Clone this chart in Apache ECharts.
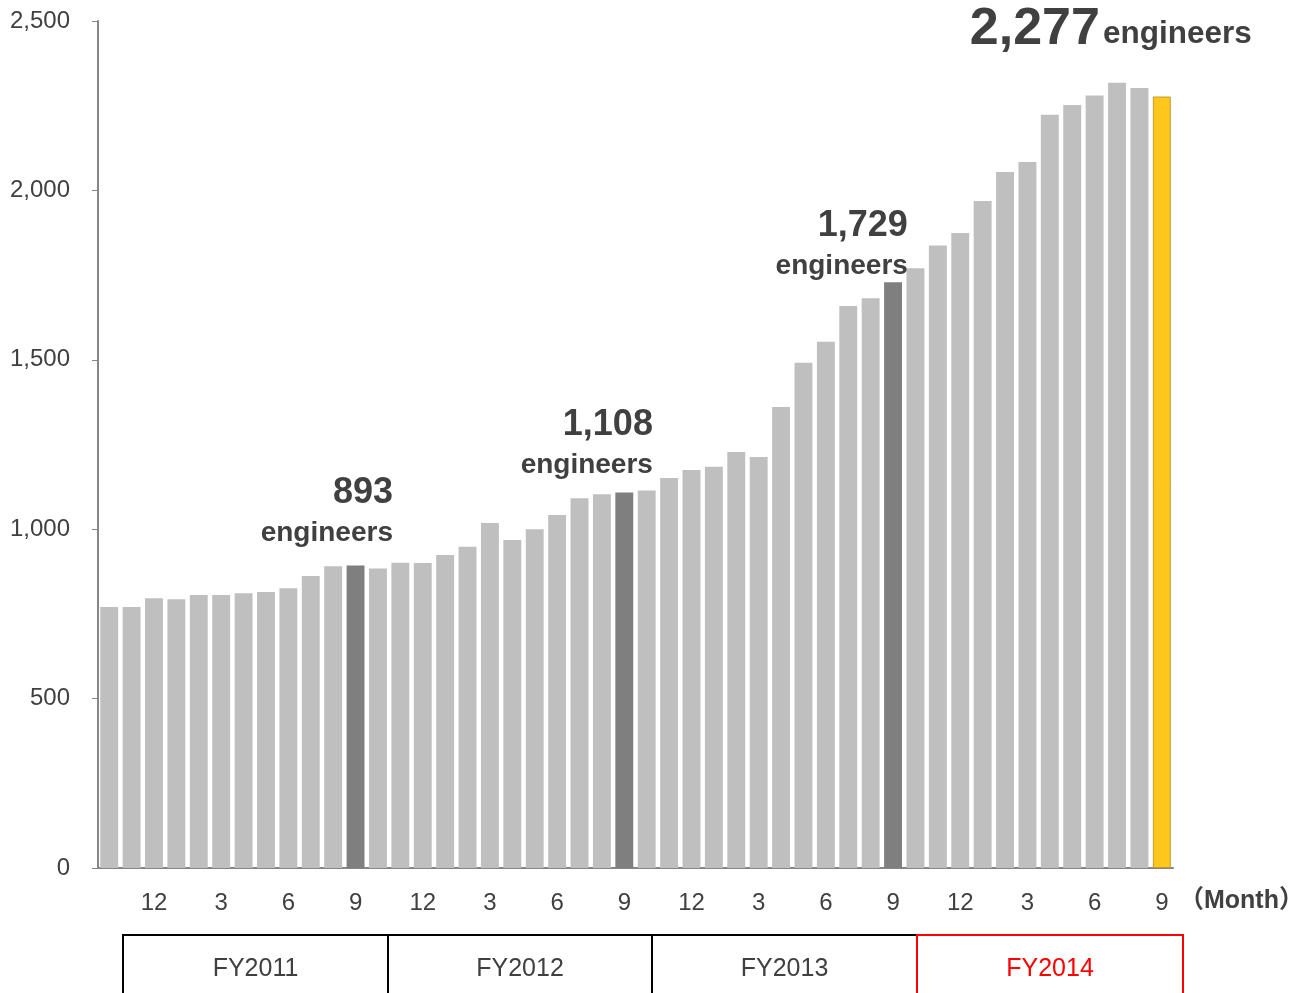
<!DOCTYPE html>
<html>
<head>
<meta charset="utf-8">
<title>Engineers</title>
<script src="https://cdn.jsdelivr.net/npm/echarts@6/dist/echarts.min.js"></script>
<style>
  html, body { margin: 0; padding: 0; background: #ffffff; }
  #chart { width: 1292px; height: 993px; }
</style>
</head>
<body>
<div id="chart"></div>
<script>
// Month of each bar, October 2010 through September 2014
const months = [
  '10','11','12','1','2','3','4','5','6','7','8','9',
  '10','11','12','1','2','3','4','5','6','7','8','9',
  '10','11','12','1','2','3','4','5','6','7','8','9',
  '10','11','12','1','2','3','4','5','6','7','8','9'
];

// Number of engineers at each month end
const engineers = [
  770, 770, 796, 793, 806, 806, 811, 815, 826, 862, 891, 893,
  884, 901, 900, 924, 948, 1018, 968, 1000, 1042, 1091, 1103, 1108,
  1114, 1151, 1175, 1184, 1228, 1213, 1361, 1491, 1553, 1659, 1682, 1729,
  1770, 1837, 1874, 1969, 2054, 2084, 2223, 2252, 2280, 2318, 2302, 2277
];

// Month labels shown under the axis
const shownMonths = ['12', '3', '6', '9'];

// Fiscal years below the axis
const fiscalYears = ['FY2011', 'FY2012', 'FY2013', 'FY2014'];

// Fiscal year end bars (index into engineers) and the latest month
const yearEndIdx = [11, 23, 35];
const latestIdx = 47;

const TEXT = '#404040';
const FONT = "'Liberation Sans', Arial, sans-serif";

const fmt = v => v.toLocaleString('en-US');

// callout placement for the year-end bars
const calloutOffsets = { 11: [37.4, -9.5], 23: [28.6, -4.6], 35: [14.8, 6.8] };

const barData = engineers.map((v, i) => {
  if (i === latestIdx) {
    return {
      value: v,
      itemStyle: { color: '#FFC71C', borderColor: '#BF9A2C', borderWidth: 1 },
      label: {
        show: true,
        position: 'top',
        align: 'center',
        offset: [-51, -36],
        formatter: p => '{b|' + fmt(p.value) + '}{e|engineers}',
        rich: {
          b: { fontFamily: FONT, fontSize: 52, fontWeight: 'bold', color: TEXT, lineHeight: 56, verticalAlign: 'bottom' },
          e: { fontFamily: FONT, fontSize: 31.5, fontWeight: 'bold', color: TEXT, lineHeight: 42, verticalAlign: 'bottom', padding: [0, 0, 5, 3] }
        }
      }
    };
  }
  if (yearEndIdx.includes(i)) {
    return {
      value: v,
      itemStyle: { color: '#7F7F7F' },
      label: {
        show: true,
        position: 'top',
        align: 'right',
        offset: calloutOffsets[i],
        formatter: p => '{n|' + fmt(p.value) + '}\n{u|engineers}',
        rich: {
          n: { fontFamily: FONT, fontSize: 36, fontWeight: 'bold', color: TEXT, lineHeight: 44 },
          u: { fontFamily: FONT, fontSize: 28, fontWeight: 'bold', color: TEXT, lineHeight: 36 }
        }
      }
    };
  }
  return { value: v };
});

const chart = echarts.init(document.getElementById('chart'), null, { renderer: 'canvas' });

// fiscal-year boxes under the month labels
const boxes = [
  { x: 123, w: 265, color: '#000000', text: TEXT },
  { x: 388, w: 264, color: '#000000', text: TEXT },
  { x: 652, w: 265, color: '#000000', text: TEXT },
  { x: 917, w: 266, color: '#FF0000', text: '#FF0000' }
];
const graphics = [];
boxes.forEach((b, i) => {
  graphics.push({
    type: 'rect',
    z: i === 3 ? 11 : 10,
    shape: { x: b.x, y: 935, width: b.w, height: 80 },
    style: { fill: 'none', stroke: b.color, lineWidth: 2 }
  });
  graphics.push({
    type: 'text',
    z: 12,
    x: b.x + b.w / 2,
    y: 969,
    style: {
      text: fiscalYears[i],
      fill: b.text,
      font: '25px ' + FONT,
      textAlign: 'center',
      textVerticalAlign: 'middle'
    }
  });
});
graphics.push({
  type: 'text',
  x: 1179,
  y: 901,
  style: {
    text: '（Month）',
    fill: TEXT,
    font: "bold 25px 'Liberation Sans', 'Noto Sans CJK JP', sans-serif",
    textAlign: 'left',
    textVerticalAlign: 'middle'
  }
});

chart.setOption({
  backgroundColor: '#ffffff',
  animation: false,
  grid: { left: 98, right: 119, top: 21, bottom: 125, containLabel: false, outerBoundsMode: 'none' },
  xAxis: {
    type: 'category',
    data: months,
    boundaryGap: true,
    axisLine: { show: true, lineStyle: { color: '#868686', width: 2 } },
    axisTick: { show: true, inside: true, length: 5, alignWithLabel: true, interval: 0, lineStyle: { color: '#868686' } },
    axisLabel: {
      interval: (idx, val) => shownMonths.includes(val),
      margin: 23,
      fontFamily: FONT,
      fontSize: 24,
      color: TEXT
    },
    splitLine: { show: false }
  },
  yAxis: {
    type: 'value',
    min: 0,
    max: 2500,
    interval: 500,
    axisLine: { show: true, lineStyle: { color: '#868686', width: 2 } },
    axisTick: { show: true, length: 6, lineStyle: { color: '#868686' } },
    axisLabel: {
      margin: 28,
      fontFamily: FONT,
      fontSize: 24,
      color: TEXT,
      formatter: v => fmt(v)
    },
    splitLine: { show: false }
  },
  series: [{
    type: 'bar',
    data: barData,
    barCategoryGap: '20%',
    itemStyle: { color: '#BFBFBF' },
    label: { show: false }
  }],
  graphic: graphics
});
</script>
</body>
</html>
